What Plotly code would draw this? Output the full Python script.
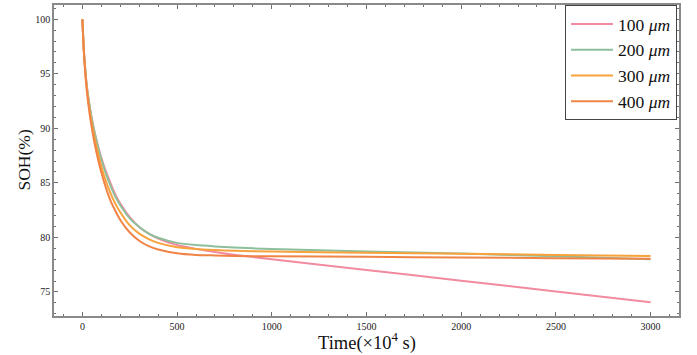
import plotly.graph_objects as go

time = [0, 5, 10, 20, 30, 40, 50, 65, 80, 100, 125, 150, 175, 200, 250, 300, 350, 400,
        500, 600, 700, 800, 1000, 1500, 2000, 2500, 3000]

soh_100 = [100, 98.0, 96.5, 94.45, 93.0, 91.85, 90.85, 89.6, 88.55, 87.3, 86.0, 84.9, 83.9, 83.1,
           81.85, 80.95, 80.35, 79.9, 79.3, 78.95, 78.66, 78.42, 78.0, 77.02, 76.03, 75.05, 74.06]
soh_200 = [100, 98.0, 96.55, 94.4, 92.95, 91.8, 90.8, 89.55, 88.45, 87.15, 85.8, 84.65, 83.7, 82.95,
           81.75, 80.95, 80.35, 79.97, 79.5, 79.3, 79.18, 79.08, 78.93, 78.72, 78.52, 78.27, 78.0]
soh_300 = [100, 97.95, 96.4, 94.2, 92.65, 91.4, 90.4, 89.05, 87.9, 86.5, 85.1, 84.0, 83.05, 82.3,
           81.1, 80.35, 79.85, 79.5, 79.1, 78.94, 78.85, 78.78, 78.7, 78.6, 78.5, 78.4, 78.3]
soh_400 = [100, 97.9, 96.3, 94.0, 92.4, 91.1, 90.0, 88.55, 87.35, 85.95, 84.5, 83.3, 82.4, 81.6,
           80.45, 79.7, 79.2, 78.9, 78.55, 78.4, 78.35, 78.3, 78.27, 78.22, 78.16, 78.1, 78.05]

labels = ["100 <i>μm</i>", "200 <i>μm</i>", "300 <i>μm</i>", "400 <i>μm</i>"]
colors = ["#F28AA0", "#8DBF9C", "#F7A23C", "#F08446"]

x_ticks = [0, 500, 1000, 1500, 2000, 2500, 3000]
y_ticks = [75, 80, 85, 90, 95, 100]

x_title = "Time(×10<sup>4</sup> s)"
y_title = "SOH(%)"

FONT = "Liberation Serif, Times New Roman, serif"

fig = go.Figure()
for ys, name, c in zip([soh_100, soh_200, soh_300, soh_400], labels, colors):
    fig.add_trace(go.Scatter(x=time, y=ys, mode="lines", name=name,
                             line=dict(color=c, width=2, shape="spline", smoothing=0.5)))

axis_common = dict(
    showgrid=False, zeroline=False, automargin=False,
    showline=True, linecolor="#8a8a8a", linewidth=1.5, mirror="ticks",
    ticks="inside", ticklen=4, tickwidth=1, tickcolor="#707070",
    tickfont=dict(family=FONT, size=10, color="#222"),
)

fig.update_xaxes(**axis_common, range=[-150, 3150], tickvals=x_ticks,
                 minor=dict(dtick=100, ticks="inside", ticklen=2, tickcolor="#707070", tickwidth=1))
fig.update_yaxes(**axis_common, range=[72.8, 101.3], tickvals=y_ticks,
                 minor=dict(dtick=1, ticks="inside", ticklen=2, tickcolor="#707070", tickwidth=1))

fig.add_annotation(text=x_title, xref="paper", yref="paper", x=0.5, y=-0.082,
                   xanchor="center", yanchor="middle", showarrow=False,
                   font=dict(family=FONT, size=18.5, color="#111"))
fig.add_annotation(text=y_title, xref="paper", yref="paper", x=-0.0496, y=0.5,
                   xanchor="center", yanchor="middle", showarrow=False, textangle=-90,
                   font=dict(family=FONT, size=17.5, color="#111"))

fig.update_layout(
    width=697, height=355,
    margin=dict(l=54, r=18, t=5, b=39),
    plot_bgcolor="white", paper_bgcolor="white",
    font=dict(family=FONT),
    legend=dict(x=0.9968, y=1.0, xanchor="right", yanchor="top",
                bgcolor="white", bordercolor="#444", borderwidth=1,
                font=dict(family=FONT, size=17.5, color="#111"),
                itemwidth=42),
    showlegend=True,
)

fig.write_html("out.html", config={"displayModeBar": False},
               post_script="document.body.style.margin='0';document.body.style.padding='0';")
